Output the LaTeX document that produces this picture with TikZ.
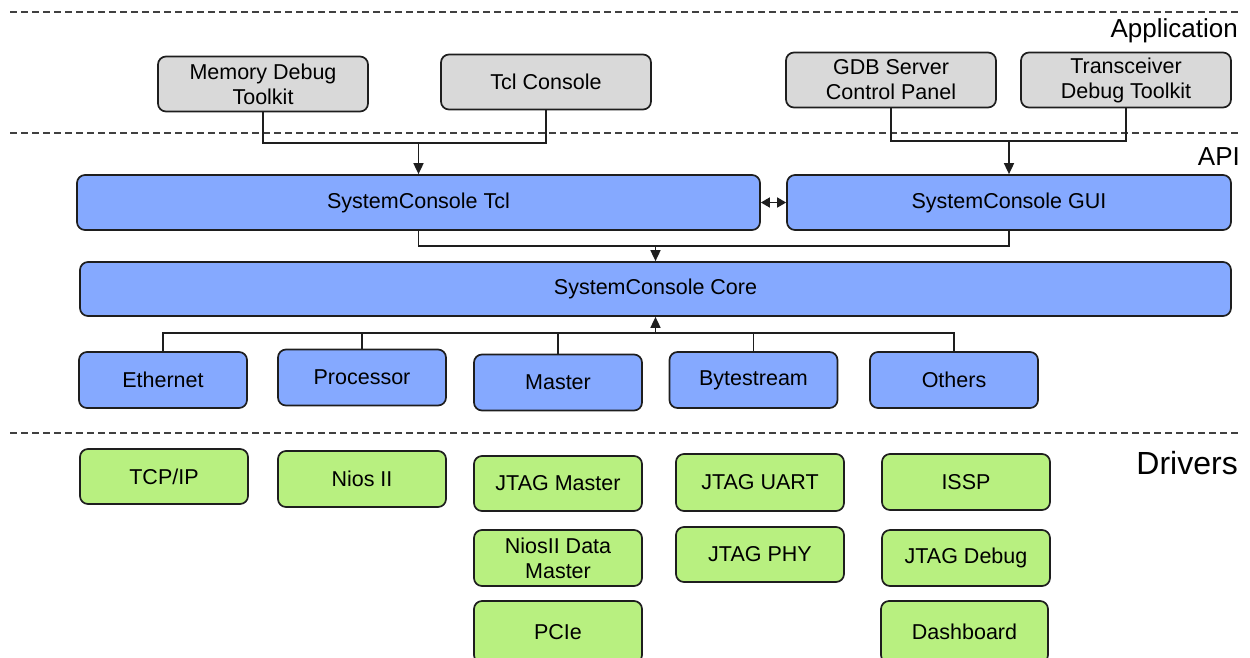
\documentclass[tikz,border=0pt]{standalone}
\usepackage{fontspec}
\setmainfont{Liberation Sans}
\usetikzlibrary{arrows.meta}
\definecolor{appgrey}{RGB}{217,217,217}
\definecolor{apiblue}{RGB}{133,169,255}
\definecolor{drvgreen}{RGB}{184,240,128}
\definecolor{edge}{RGB}{30,30,30}
\tikzset{
  box/.style={draw=edge, line width=1.7pt, rounded corners=8pt, inner sep=0pt, align=center,
    font=\fontsize{21.5}{25}\selectfont},
  appbox/.style={box, fill=appgrey, minimum width=210pt, minimum height=55pt},
  bigbox/.style={box, fill=apiblue, minimum height=55pt},
  midbox/.style={box, fill=apiblue, minimum width=168pt, minimum height=56pt},
  drvbox/.style={box, fill=drvgreen, minimum width=168pt, minimum height=56pt},
  wire/.style={draw=edge, line width=1.6pt},
  arr/.style={wire, -{Triangle[length=11pt,width=10pt]}},
  darr/.style={wire, {Triangle[length=9pt,width=10pt]}-{Triangle[length=9pt,width=10pt]}},
  sep/.style={draw=black!75, line width=1.5pt, dash pattern=on 7pt off 4pt},
  layer/.style={inner sep=0pt, font=\fontsize{26}{30}\selectfont},
}
\begin{document}
\begin{tikzpicture}[x=1pt,y=-1pt]
\clip (0,0) rectangle (1250,657);
\useasboundingbox (0,0) rectangle (1250,657);

% separators
\draw[sep] (10,12) -- (1240,12);
\draw[sep] (10,133) -- (1240,133);
\draw[sep] (10,433) -- (1240,433);

% layer labels
\node[layer, anchor=base east] (lapp) at (1238,37) {Application};
\node[layer, anchor=base east] (lapi) at (1240,165) {API};
\node[layer, anchor=base east, font=\fontsize{32}{36}\selectfont] (ldrv) at (1238,474) {Drivers};

% application
\node[appbox] (mem) at (263,84) {Memory Debug\\Toolkit};
\node[appbox] (tclc) at (546,82) {Tcl Console};
\node[appbox] (gdb) at (891,80) {GDB Server\\Control Panel};
\node[appbox] (xcvr) at (1126,80) {Transceiver\\Debug Toolkit};

% API
\node[bigbox, minimum width=683pt] (sctcl) at (418.5,202.5) {SystemConsole Tcl};
\node[bigbox, minimum width=444pt] (scgui) at (1009,202.5) {SystemConsole GUI};
\node[bigbox, minimum width=1151pt, minimum height=54pt] (core) at (655.5,289) {SystemConsole Core};

\node[midbox] (eth) at (163,380) {Ethernet};
\node[midbox] (proc) at (362,377.5) {Processor};
\node[midbox] (mast) at (558,382.5) {Master};
\node[midbox] (byte) at (753.5,380) {Bytestream};
\node[midbox] (oth) at (954,380) {Others};

% drivers
\node[drvbox, minimum height=55pt] (tcp) at (164,476.5) {TCP/IP};
\node[drvbox] (nios) at (362,479) {Nios II};
\node[drvbox, minimum height=55pt] (jm) at (558,483.5) {JTAG Master};
\node[drvbox, minimum height=57pt] (ju) at (760,482.5) {JTAG UART};
\node[drvbox] (issp) at (966,482) {ISSP};
\node[drvbox] (ndm) at (558,558) {NiosII Data\\Master};
\node[drvbox, minimum height=55pt] (jphy) at (760,554.5) {JTAG PHY};
\node[drvbox] (jdbg) at (966,558) {JTAG Debug};
\node[drvbox, minimum height=62pt] (pcie) at (558,632) {PCIe};
\node[drvbox, minimum height=62pt, minimum width=167pt] (dash) at (964.5,632) {Dashboard};

% junctions
\coordinate (j1) at (418.5,143);
\coordinate (j2) at (1009,141);
\coordinate (j3) at (655.5,246);
\coordinate (j4) at (655.5,333);

% connectors
\draw[wire] (mem.south) |- (j1) -| (tclc.south);
\draw[arr] (j1) -- (sctcl.north);
\draw[wire] (gdb.south) |- (j2) -| (xcvr.south);
\draw[arr] (j2) -- (scgui.north);
\draw[darr] (sctcl.east) -- (scgui.west);
\draw[wire] (sctcl.south) |- (j3) -| (scgui.south);
\draw[arr] (j3) -- (core.north);
\draw[wire] (eth.north) |- (j4) -| (oth.north);
\draw[wire] (proc.north) -- (proc.north |- j4);
\draw[wire] (mast.north) -- (mast.north |- j4);
\draw[wire] (byte.north) -- (byte.north |- j4);
\draw[arr] (j4) -- (core.south);
\end{tikzpicture}
\end{document}
